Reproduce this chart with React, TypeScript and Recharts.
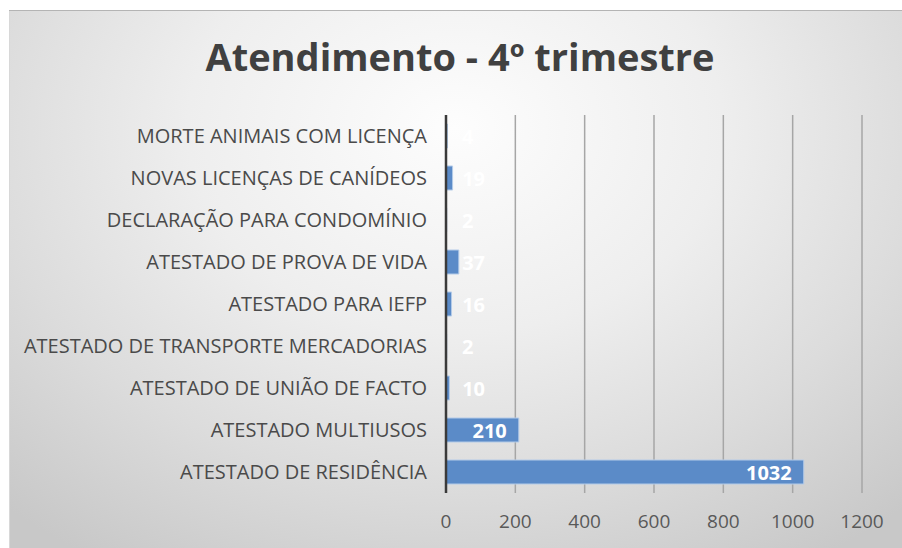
import React from "react";
import { BarChart, Bar, XAxis, YAxis, CartesianGrid, LabelList } from "recharts";

const categories = [
  "MORTE ANIMAIS COM LICENÇA",
  "NOVAS LICENÇAS DE CANÍDEOS",
  "DECLARAÇÃO PARA CONDOMÍNIO",
  "ATESTADO DE PROVA DE VIDA",
  "ATESTADO PARA IEFP",
  "ATESTADO DE TRANSPORTE MERCADORIAS",
  "ATESTADO DE UNIÃO DE FACTO",
  "ATESTADO MULTIUSOS",
  "ATESTADO DE RESIDÊNCIA",
];
const values = [4, 19, 2, 37, 16, 2, 10, 210, 1032];
const xTicks = [0, 200, 400, 600, 800, 1000, 1200];
const title = "Atendimento - 4º trimestre";

const data = categories.map((name, i) => ({ name, value: values[i] }));

const FONT = "'Open Sans', 'Noto Sans', sans-serif";

const renderLabel = (props: any) => {
  const { x, y, width, height, value } = props;
  const fs = 20;
  const w = String(value).length * 11.5;
  const endX = x + width - 12;
  const minStart = x + 16;
  let tx: number;
  if (endX - w < minStart) tx = minStart + w;
  else tx = endX;
  return (
    <text
      x={tx}
      y={y + height / 2}
      textAnchor="end"
      dominantBaseline="central"
      fill="#ffffff"
      fontWeight="bold"
      fontSize={fs}
      fontFamily={FONT}
    >
      {value}
    </text>
  );
};

export default function App() {
  return (
    <>
      <style>{`body{margin:0;overflow:hidden;}`}</style>
      <div
        style={{
          position: "absolute",
          left: 9,
          top: 10,
          width: 893,
          height: 538,
          background:
            "radial-gradient(ellipse 75% 95% at 50% 22%, #fdfdfd 0%, #eeeeee 40%, #dcdcdc 70%, #c8c8c8 100%)",
          boxShadow: "inset 0 1px 0 #b4b4b4, inset 1px 0 0 #d8d8d8",
          fontFamily: FONT,
        }}
      >
        <svg
          width={893}
          height={100}
          style={{ position: "absolute", left: 0, top: 0, pointerEvents: "none" }}
        >
          <text
            x={451}
            y={61}
            textAnchor="middle"
            fontSize={38}
            fontWeight="bold"
            fill="#404040"
            fontFamily={FONT}
          >
            {title}
          </text>
        </svg>
        <BarChart
          layout="vertical"
          width={893}
          height={538}
          data={data}
          margin={{ top: 105, right: 40, bottom: 15, left: 0 }}
        >
          <CartesianGrid horizontal={false} stroke="#a6a6a6" strokeWidth={1.5} />
          <XAxis
            type="number"
            domain={[0, 1200]}
            ticks={xTicks}
            axisLine={false}
            tickLine={false}
            tickSize={0}
            tickMargin={22}
            height={40}
            interval={0}
            tick={{ fill: "#595959", fontSize: 19, fontFamily: FONT }}
          />
          <YAxis
            type="category"
            dataKey="name"
            width={437}
            axisLine={{ stroke: "#3a3a3a", strokeWidth: 2.5 }}
            tickLine={false}
            tickSize={0}
            tickMargin={19}
            interval={0}
            tick={{ fill: "#4a4a4a", fontSize: 20, fontFamily: FONT }}
          />
          <Bar
            dataKey="value"
            fill="#5b8bc8"
            stroke="#b4cbe8"
            strokeWidth={1}
            barSize={24}
            isAnimationActive={false}
          >
            <LabelList dataKey="value" content={renderLabel} />
          </Bar>
        </BarChart>
      </div>
    </>
  );
}
